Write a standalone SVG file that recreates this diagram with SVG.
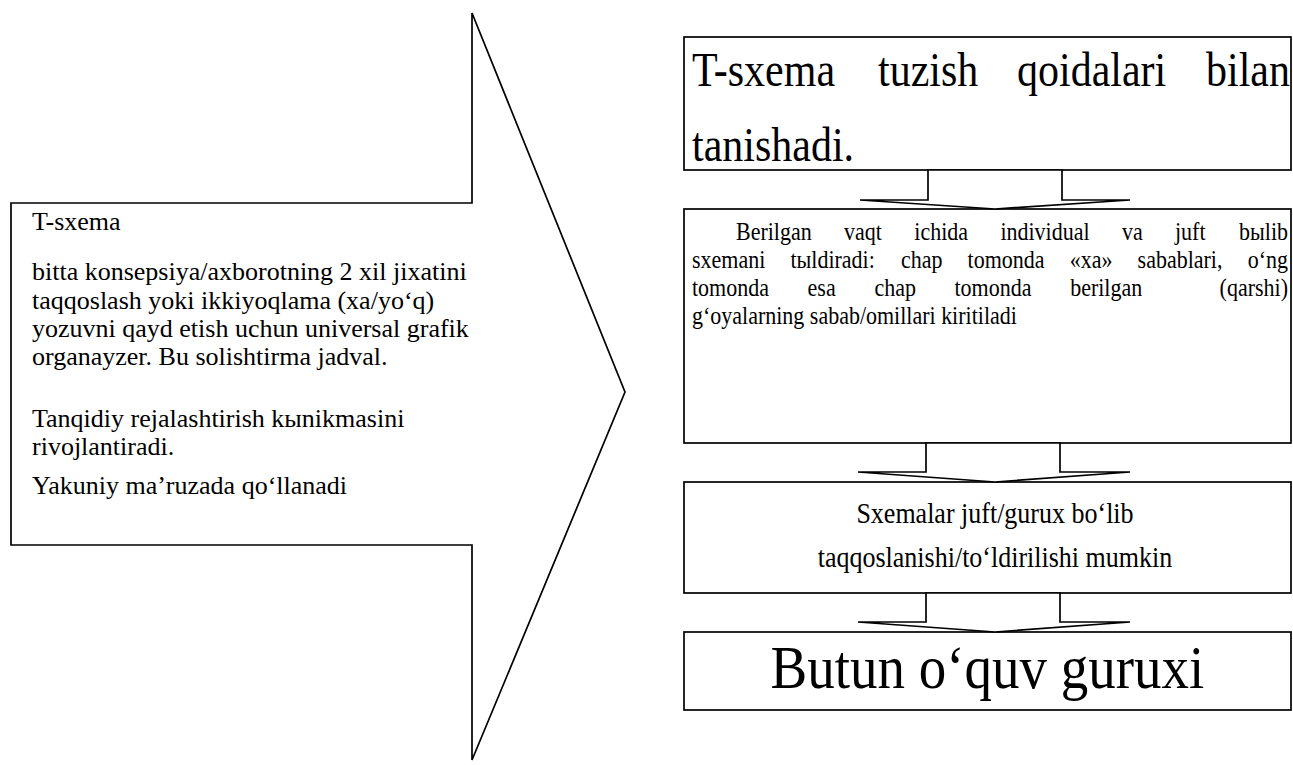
<svg xmlns="http://www.w3.org/2000/svg" width="1293" height="765" viewBox="0 0 1293 765">
<style>
.sh{fill:#fff;stroke:#000;stroke-width:1.7;stroke-linejoin:miter}
.t{font-family:"Liberation Serif","Times New Roman",serif;fill:#000}
.s26{font-size:26px}
.s22{font-size:22px}
.s42{font-size:42px}
.s55{font-size:55px}
.e{text-anchor:end}
.m{text-anchor:middle}
</style>
<rect width="1293" height="765" fill="#fff"/>
<g id="node-tsxema">
<path class="sh" d="M11,203 L472,203 L472,13 L625,392 L472,760 L472,545 L11,545 Z"/>
<text class="t s26" x="32" y="230">T-sxema</text>
<text class="t s26" x="32" y="280">bitta konsepsiya/axborotning 2 xil jixatini</text>
<text class="t s26" x="32" y="309">taqqoslash yoki ikkiyoqlama (xa/yo‘q)</text>
<text class="t s26" x="32" y="337">yozuvni qayd etish uchun universal grafik</text>
<text class="t s26" x="32" y="365">organayzer. Bu solishtirma jadval.</text>
<text class="t s26" x="32" y="427">Tanqidiy rejalashtirish k&#x44B;nikmasini</text>
<text class="t s26" x="32" y="455">rivojlantiradi.</text>
<text class="t s26" x="32" y="494">Yakuniy ma’ruzada qo‘llanadi</text>
</g>
<g id="node-rules">
<rect class="sh" x="684" y="37" width="607" height="133"/>
<g transform="translate(0,86) scale(1,1.15)">
<text class="t s42" y="0"><tspan x="692">T-sxema</tspan><tspan x="878">tuzish</tspan><tspan x="1017">qoidalari</tspan></text>
<text class="t s42 e" x="1290" y="0">bilan</text>
</g>
<g transform="translate(0,161) scale(1,1.15)"><text class="t s42" x="692" y="0">tanishadi.</text></g>
</g>
<g id="node-fill">
<rect class="sh" x="684" y="209" width="607" height="234"/>
<g transform="translate(0,240) scale(1,1.14)">
<text class="t s22" y="0"><tspan x="736">Berilgan</tspan><tspan x="844.1">vaqt</tspan><tspan x="914.3">ichida</tspan><tspan x="1000.4">individual</tspan><tspan x="1121.9">va</tspan><tspan x="1175">juft</tspan></text>
<text class="t s22 e" x="1288" y="0">b&#x44B;lib</text>
</g>
<g transform="translate(0,268) scale(1,1.14)">
<text class="t s22" y="0"><tspan x="692">sxemani</tspan><tspan x="790.4">t&#x44B;ldiradi:</tspan><tspan x="901">chap</tspan><tspan x="967.6">tomonda</tspan><tspan x="1069.7">«xa»</tspan><tspan x="1137.6">sabablari,</tspan></text>
<text class="t s22 e" x="1288" y="0">o‘ng</text>
</g>
<g transform="translate(0,296) scale(1,1.14)">
<text class="t s22" y="0"><tspan x="692">tomonda</tspan><tspan x="807.6">esa</tspan><tspan x="874.4">chap</tspan><tspan x="954.5">tomonda</tspan><tspan x="1070.2">berilgan</tspan></text>
<text class="t s22 e" x="1288" y="0">(qarshi)</text>
</g>
<g transform="translate(0,324) scale(1,1.14)"><text class="t s22" x="692" y="0">g‘oyalarning sabab/omillari kiritiladi</text></g>
</g>
<g id="node-compare">
<rect class="sh" x="684" y="482" width="607" height="111"/>
<g transform="translate(0,523) scale(1,1.12)"><text class="t s26 m" x="995" y="0">Sxemalar juft/gurux bo‘lib</text></g>
<g transform="translate(0,567) scale(1,1.12)"><text class="t s26 m" x="995" y="0">taqqoslanishi/to‘ldirilishi mumkin</text></g>
</g>
<g id="node-group">
<rect class="sh" x="684" y="632" width="607" height="78"/>
<g transform="translate(0,688) scale(1,1.12)"><text class="t s55 m" x="987.5" y="0">Butun o‘quv guruxi</text></g>
</g>
<g id="connectors">
<path class="sh" d="M928,170 L928,200 L860,200 L995,209 L1130,200 L1062,200 L1062,170 Z"/>
<path class="sh" d="M926,443 L926,472 L858,472 L995,482 L1130,472 L1060,472 L1060,443 Z"/>
<path class="sh" d="M926,593 L926,622 L858,622 L995,632 L1130,622 L1060,622 L1060,593 Z"/>
</g>
</svg>
